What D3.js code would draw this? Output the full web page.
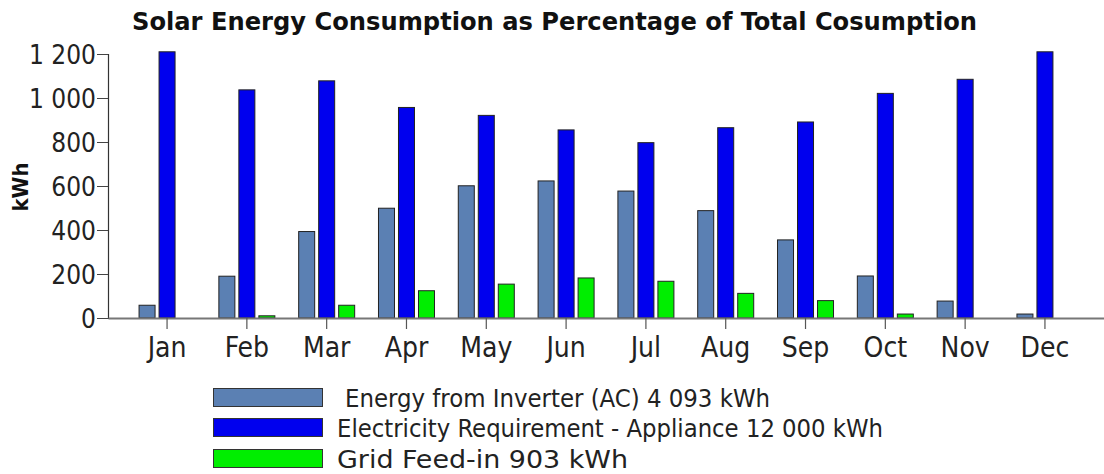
<!DOCTYPE html>
<html>
<head>
<meta charset="utf-8">
<script src="https://cdn.jsdelivr.net/npm/d3@7"></script>
<style>
  html, body { margin: 0; padding: 0; background: #fff; }
  svg { display: block; }
  text { font-stretch: condensed; }
</style>
</head>
<body>
<svg id="chart" width="1104" height="474"></svg>
<script>
const months = ["Jan","Feb","Mar","Apr","May","Jun","Jul","Aug","Sep","Oct","Nov","Dec"];
const inverter = [58, 190, 393, 499, 601, 623, 577, 488, 355, 191, 77, 18];
const requirement = [1210, 1037, 1078, 957, 921, 855, 797, 865, 891, 1021, 1085, 1210];
const gridFeed = [0, 10, 58, 124, 154, 182, 167, 112, 79, 18, 0, 0];
const yTicks = [0, 200, 400, 600, 800, 1000, 1200];
const seriesNames = ["Energy from Inverter (AC) 4 093 kWh", "Electricity Requirement - Appliance 12 000 kWh", "Grid Feed-in 903 kWh"];
const seriesColors = ["#5b80b3", "#0000ee", "#00ee00"];
const title = "Solar Energy Consumption as Percentage of Total Cosumption";
const yTitle = "kWh";

const series = [inverter, requirement, gridFeed];
const svg = d3.select("#chart");
const fontReg = "'DejaVu Sans', sans-serif";

const x = d3.scaleBand().domain(months).range([108, 1104]).paddingInner(0).paddingOuter(0.24);
const x1 = d3.scaleBand().domain([0, 1, 2]).range([-28.5, 28.5]).paddingInner(0.15);
const y = d3.scaleLinear().domain([0, 1200]).range([318, 54]);

const locale = d3.formatLocale({decimal: ".", thousands: " ", grouping: [3], currency: ["", ""]});
const fmt = locale.format(",");

// bars
series.forEach((vals, si) => {
  svg.append("g").selectAll("rect").data(vals).join("rect")
    .attr("x", (d, i) => x(months[i]) + x.bandwidth() / 2 + x1(si) + 0.5)
    .attr("y", d => y(d))
    .attr("width", x1.bandwidth() - 1)
    .attr("height", d => Math.max(0, y(0) - y(d)))
    .attr("fill", seriesColors[si])
    .attr("stroke", "#222")
    .attr("stroke-width", d => d > 0 ? 1 : 0);
});

// y axis
const yAxis = svg.append("g").attr("transform", "translate(108,0)")
  .call(d3.axisLeft(y).tickValues(yTicks).tickFormat(fmt).tickSize(11).tickPadding(1));
yAxis.select(".domain").attr("stroke", "#333").attr("stroke-width", 1.2);
yAxis.selectAll(".tick line").attr("stroke", "#444");
yAxis.selectAll(".tick text").attr("font-family", fontReg).attr("font-size", 26).attr("fill", "#222").attr("dy", "0.36em");

// x axis
const xAxis = svg.append("g").attr("transform", "translate(0,318)")
  .call(d3.axisBottom(x).tickSize(11).tickSizeOuter(0).tickPadding(8));
xAxis.select(".domain").attr("stroke", "#777").attr("stroke-width", 2);
xAxis.selectAll(".tick line").attr("stroke", "#555").attr("stroke-width", 1.2);
xAxis.selectAll(".tick text").attr("font-family", fontReg).attr("font-size", 28).attr("fill", "#222").attr("dy", "0.71em");

// title
svg.append("text")
  .attr("x", 132).attr("y", 30)
  .attr("font-family", fontReg)
  .attr("font-weight", "bold").attr("font-size", 24).attr("fill", "#111")
  .attr("textLength", 845).attr("lengthAdjust", "spacingAndGlyphs")
  .text(title);

// y title
svg.append("text")
  .attr("transform", "translate(28,187) rotate(-90)")
  .attr("text-anchor", "middle")
  .attr("font-family", fontReg)
  .attr("font-weight", "bold").attr("font-size", 22).attr("fill", "#111")
  .text(yTitle);

// legend
const legRowY = [388, 418, 449];
const legTextX = [345, 337, 337];
const legTextW = [425, 546, 291];
const leg = svg.append("g");
seriesNames.forEach((name, i) => {
  leg.append("rect")
    .attr("x", 213.5).attr("y", legRowY[i] + 0.5)
    .attr("width", 109).attr("height", 18)
    .attr("fill", seriesColors[i]).attr("stroke", "#333").attr("stroke-width", 1);
  leg.append("text")
    .attr("x", legTextX[i]).attr("y", legRowY[i] + 19)
    .attr("font-family", fontReg).attr("font-size", 24).attr("fill", "#222")
    .attr("textLength", legTextW[i]).attr("lengthAdjust", "spacingAndGlyphs")
    .text(name);
});
</script>
</body>
</html>
